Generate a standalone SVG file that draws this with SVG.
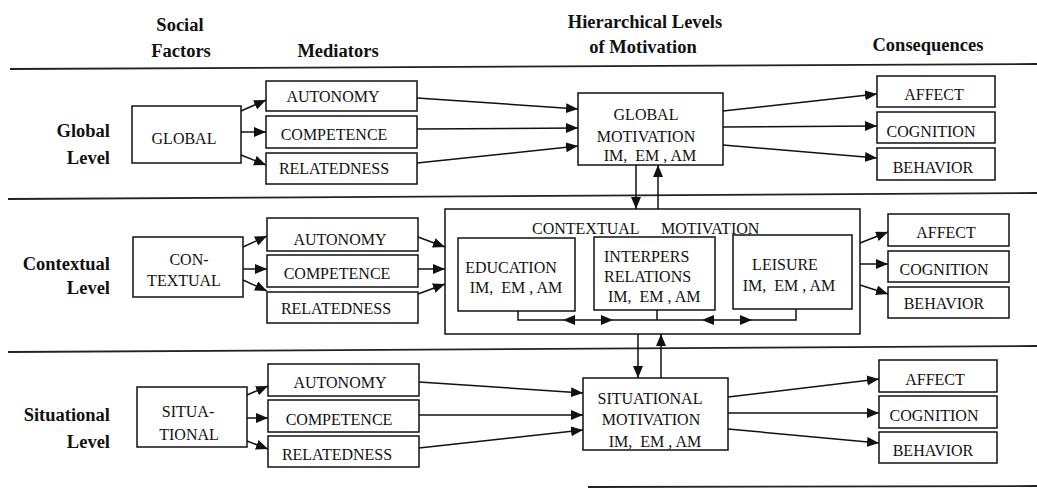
<svg xmlns="http://www.w3.org/2000/svg" width="1037" height="488" viewBox="0 0 1037 488">
<style>
  .box { fill: #fff; stroke: #111; stroke-width: 1.5; }
  .t { font-family: "Liberation Serif", "Times New Roman", serif; font-size: 16px; fill: #111; text-anchor: middle; }
  .tl { font-family: "Liberation Serif", "Times New Roman", serif; font-size: 16px; fill: #111; }
  .h { font-family: "Liberation Serif", "Times New Roman", serif; font-size: 18.5px; font-weight: bold; fill: #111; text-anchor: middle; }
  .lv { font-family: "Liberation Serif", "Times New Roman", serif; font-size: 18.5px; font-weight: bold; fill: #111; text-anchor: end; }
  .sep { stroke: #222; stroke-width: 1.8; fill: none; }
  .c { stroke: #111; stroke-width: 1.5; fill: none; }
  .a { stroke: #111; stroke-width: 1.5; fill: none; marker-end: url(#ah); }
</style>
<defs>
  <marker id="ah" markerUnits="userSpaceOnUse" markerWidth="13" markerHeight="11" refX="12" refY="5" orient="auto">
    <path d="M0,0 L12,5 L0,10 z" fill="#111"/>
  </marker>
</defs>
<rect width="1037" height="488" fill="#fff"/>

<g id="headers">
  <text class="h" x="180" y="31">Social</text>
  <text class="h" x="181" y="57">Factors</text>
  <text class="h" x="338" y="57">Mediators</text>
  <text class="h" x="645" y="28">Hierarchical Levels</text>
  <text class="h" x="643" y="53">of Motivation</text>
  <text class="h" x="928" y="51">Consequences</text>
</g>

<g id="separators">
  <line class="sep" x1="10" y1="69" x2="1037" y2="64"/>
  <line class="sep" x1="8" y1="199" x2="1037" y2="193"/>
  <line class="sep" x1="8" y1="352" x2="1037" y2="346"/>
  <line class="sep" x1="588" y1="487" x2="1037" y2="486"/>
</g>

<g id="level-labels">
  <text class="lv" x="110" y="137">Global</text>
  <text class="lv" x="110" y="164">Level</text>
  <text class="lv" x="110" y="270">Contextual</text>
  <text class="lv" x="110" y="294">Level</text>
  <text class="lv" x="110" y="421">Situational</text>
  <text class="lv" x="110" y="448">Level</text>
</g>

<!-- Global level -->
<g id="global-social">
  <rect class="box" x="132" y="106" width="109" height="57"/>
  <text class="t" x="184" y="144">GLOBAL</text>
</g>
<g id="global-autonomy">
  <rect class="box" x="266" y="81" width="151" height="30"/>
  <text class="t" x="333" y="102">AUTONOMY</text>
</g>
<g id="global-competence">
  <rect class="box" x="266" y="116" width="151" height="32"/>
  <text class="t" x="334" y="140">COMPETENCE</text>
</g>
<g id="global-relatedness">
  <rect class="box" x="266" y="153" width="151" height="31"/>
  <text class="t" x="334" y="174">RELATEDNESS</text>
</g>
<g id="global-motivation">
  <rect class="box" x="578" y="93" width="145" height="72"/>
  <text class="t" x="646" y="120">GLOBAL</text>
  <text class="t" x="646" y="142">MOTIVATION</text>
  <text class="t" x="650" y="161" xml:space="preserve">IM,  EM , AM</text>
</g>
<g id="global-affect">
  <rect class="box" x="877" y="76" width="118" height="31"/>
  <text class="t" x="934" y="100">AFFECT</text>
</g>
<g id="global-cognition">
  <rect class="box" x="877" y="112" width="118" height="31"/>
  <text class="t" x="931" y="137">COGNITION</text>
</g>
<g id="global-behavior">
  <rect class="box" x="877" y="148" width="118" height="32"/>
  <text class="t" x="933" y="173">BEHAVIOR</text>
</g>

<!-- Contextual level -->
<g id="contextual-social">
  <rect class="box" x="133" y="237" width="110" height="60"/>
  <text class="t" x="189" y="265">CON-</text>
  <text class="t" x="184" y="286">TEXTUAL</text>
</g>
<g id="contextual-autonomy">
  <rect class="box" x="267" y="218" width="151" height="33"/>
  <text class="t" x="340" y="245">AUTONOMY</text>
</g>
<g id="contextual-competence">
  <rect class="box" x="267" y="255" width="151" height="32"/>
  <text class="t" x="337" y="279">COMPETENCE</text>
</g>
<g id="contextual-relatedness">
  <rect class="box" x="267" y="292" width="151" height="31"/>
  <text class="t" x="336" y="314">RELATEDNESS</text>
</g>
<g id="contextual-motivation">
  <rect class="box" x="445" y="209" width="415" height="125"/>
  <text class="tl" x="532" y="234" word-spacing="18">CONTEXTUAL MOTIVATION</text>
</g>
<g id="education">
  <rect class="box" x="458" y="238" width="117" height="73"/>
  <text class="t" x="511" y="273">EDUCATION</text>
  <text class="t" x="516" y="293" xml:space="preserve">IM,  EM , AM</text>
</g>
<g id="interpers-relations">
  <rect class="box" x="594" y="237" width="121" height="73"/>
  <text class="tl" x="604" y="262">INTERPERS</text>
  <text class="tl" x="604" y="282">RELATIONS</text>
  <text class="tl" x="608" y="302" xml:space="preserve">IM,  EM , AM</text>
</g>
<g id="leisure">
  <rect class="box" x="733" y="235" width="119" height="74"/>
  <text class="t" x="785" y="270">LEISURE</text>
  <text class="t" x="789" y="291" xml:space="preserve">IM,  EM , AM</text>
</g>
<g id="contextual-affect">
  <rect class="box" x="888" y="214" width="121" height="32"/>
  <text class="t" x="946" y="238">AFFECT</text>
</g>
<g id="contextual-cognition">
  <rect class="box" x="888" y="251" width="121" height="31"/>
  <text class="t" x="944" y="275">COGNITION</text>
</g>
<g id="contextual-behavior">
  <rect class="box" x="888" y="287" width="121" height="31"/>
  <text class="t" x="944" y="309">BEHAVIOR</text>
</g>

<!-- Situational level -->
<g id="situational-social">
  <rect class="box" x="137" y="387" width="110" height="60"/>
  <text class="t" x="188" y="417">SITUA-</text>
  <text class="t" x="189" y="440">TIONAL</text>
</g>
<g id="situational-autonomy">
  <rect class="box" x="268" y="364" width="151" height="32"/>
  <text class="t" x="340" y="388">AUTONOMY</text>
</g>
<g id="situational-competence">
  <rect class="box" x="268" y="400" width="151" height="32"/>
  <text class="t" x="339" y="425">COMPETENCE</text>
</g>
<g id="situational-relatedness">
  <rect class="box" x="268" y="436" width="151" height="31"/>
  <text class="t" x="337" y="460">RELATEDNESS</text>
</g>
<g id="situational-motivation">
  <rect class="box" x="583" y="378" width="145" height="72"/>
  <text class="t" x="650" y="404">SITUATIONAL</text>
  <text class="t" x="651" y="425">MOTIVATION</text>
  <text class="t" x="655" y="447" xml:space="preserve">IM,  EM , AM</text>
</g>
<g id="situational-affect">
  <rect class="box" x="879" y="360" width="118" height="32"/>
  <text class="t" x="935" y="385">AFFECT</text>
</g>
<g id="situational-cognition">
  <rect class="box" x="879" y="396" width="118" height="32"/>
  <text class="t" x="934" y="421">COGNITION</text>
</g>
<g id="situational-behavior">
  <rect class="box" x="879" y="432" width="118" height="31"/>
  <text class="t" x="933" y="456">BEHAVIOR</text>
</g>

<g id="connectors">
  <!-- global -->
  <line class="a" x1="241" y1="111" x2="266" y2="100"/>
  <line class="a" x1="241" y1="132" x2="266" y2="132"/>
  <line class="a" x1="241" y1="155" x2="266" y2="165"/>
  <line class="a" x1="417" y1="98" x2="578" y2="109"/>
  <line class="a" x1="417" y1="129" x2="578" y2="128"/>
  <line class="a" x1="417" y1="163" x2="578" y2="146"/>
  <line class="a" x1="723" y1="111" x2="877" y2="94"/>
  <line class="a" x1="723" y1="127" x2="877" y2="126"/>
  <line class="a" x1="723" y1="145" x2="877" y2="158"/>
  <!-- vertical global/contextual -->
  <line class="a" x1="636" y1="165" x2="636" y2="209"/>
  <line class="a" x1="658" y1="209" x2="658" y2="165"/>
  <!-- contextual -->
  <line class="a" x1="243" y1="247" x2="267" y2="236"/>
  <line class="a" x1="243" y1="269" x2="267" y2="269"/>
  <line class="a" x1="243" y1="280" x2="267" y2="291"/>
  <line class="a" x1="418" y1="237" x2="445" y2="247"/>
  <line class="a" x1="418" y1="269" x2="445" y2="269"/>
  <line class="a" x1="418" y1="294" x2="445" y2="284"/>
  <line class="a" x1="860" y1="243" x2="888" y2="232"/>
  <line class="a" x1="860" y1="264" x2="888" y2="264"/>
  <line class="a" x1="860" y1="285" x2="888" y2="294"/>
  <!-- inner contextual links -->
  <polyline class="c" points="518,311 518,320 796,320 796,309"/>
  <line class="c" x1="657" y1="310" x2="657" y2="320"/>
  <path d="M563,320 L575,315 L575,325 z" fill="#111"/>
  <path d="M613,320 L601,315 L601,325 z" fill="#111"/>
  <path d="M702,320 L714,315 L714,325 z" fill="#111"/>
  <path d="M752,320 L740,315 L740,325 z" fill="#111"/>
  <!-- vertical contextual/situational -->
  <line class="a" x1="638" y1="334" x2="638" y2="378"/>
  <line class="a" x1="661" y1="378" x2="661" y2="334"/>
  <!-- situational -->
  <line class="a" x1="247" y1="395" x2="268" y2="386"/>
  <line class="a" x1="247" y1="418" x2="268" y2="418"/>
  <line class="a" x1="247" y1="441" x2="268" y2="449"/>
  <line class="a" x1="419" y1="382" x2="583" y2="393"/>
  <line class="a" x1="419" y1="415" x2="583" y2="415"/>
  <line class="a" x1="419" y1="448" x2="583" y2="430"/>
  <line class="a" x1="728" y1="397" x2="879" y2="379"/>
  <line class="a" x1="728" y1="413" x2="879" y2="413"/>
  <line class="a" x1="728" y1="429" x2="879" y2="443"/>
</g>
</svg>
